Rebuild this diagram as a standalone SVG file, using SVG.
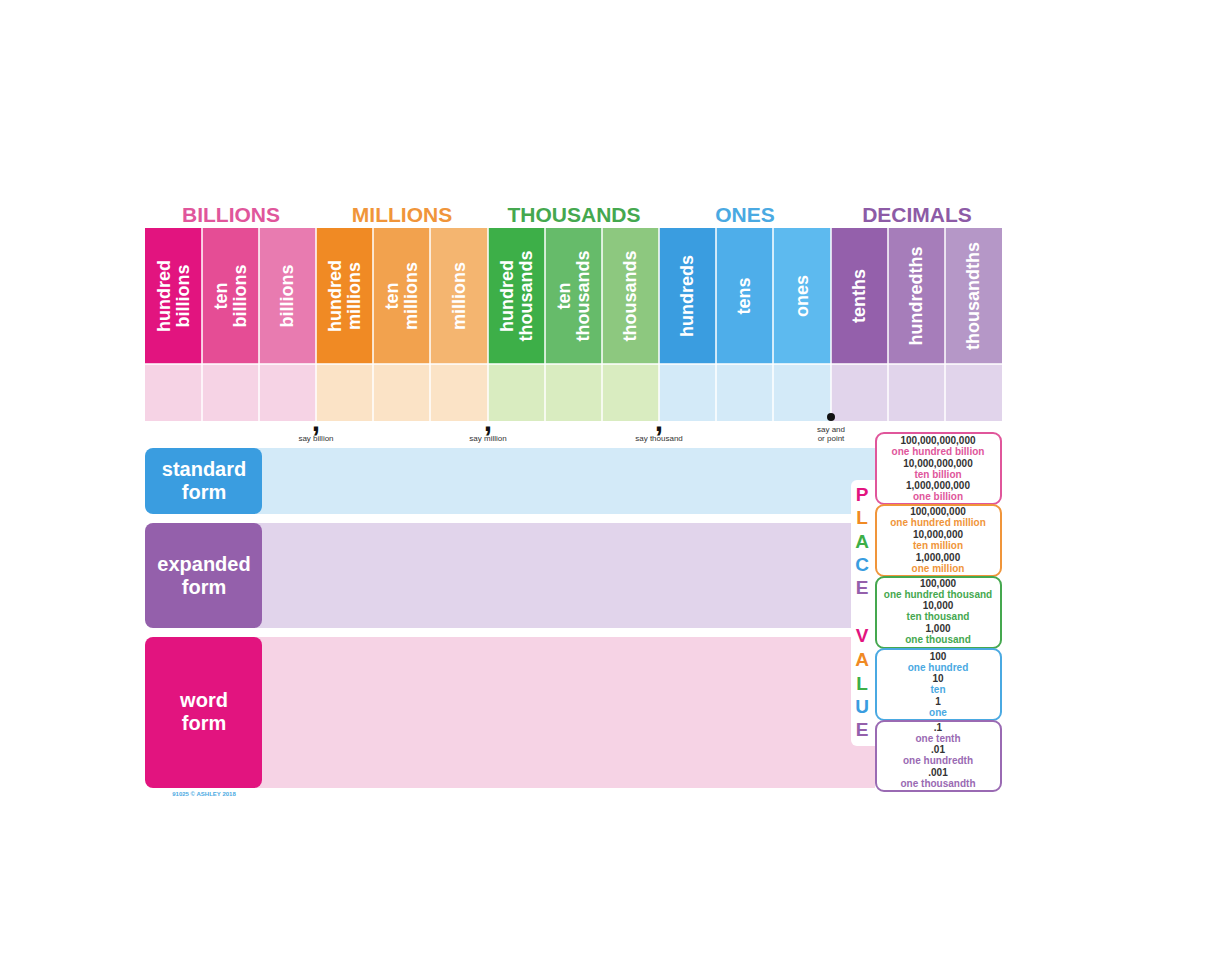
<svg xmlns="http://www.w3.org/2000/svg" width="1207" height="960" viewBox="0 0 1207 960">
<style>
text{font-family:"Liberation Sans",Arial,sans-serif;font-weight:bold}
.gt{font-size:21px;text-anchor:middle}
.vl{font-size:18px;fill:#fff;text-anchor:middle}
.say{font-size:8px;font-weight:normal;fill:#333;text-anchor:middle}
.fl{font-size:20px;fill:#fff;text-anchor:middle}
.pv{font-size:10px;text-anchor:middle}
.n{fill:#333}
.pl{font-size:19px;text-anchor:middle}
.sep{stroke:#fff;stroke-width:1.5}
</style>
<rect width="1207" height="960" fill="#fff"/>
<g id="group-titles">
<text class="gt" x="231" y="222" fill="#e0569b">BILLIONS</text>
<text class="gt" x="402" y="222" fill="#f0953a">MILLIONS</text>
<text class="gt" x="574" y="222" fill="#45a84f">THOUSANDS</text>
<text class="gt" x="745" y="222" fill="#4aa9e2">ONES</text>
<text class="gt" x="917" y="222" fill="#8d5ba6">DECIMALS</text>
</g>
<g id="columns">
<rect x="145" y="228" width="57" height="136" fill="#e2147f"/>
<rect x="202" y="228" width="57" height="136" fill="#e54d95"/>
<rect x="259" y="228" width="57" height="136" fill="#e87bb0"/>
<rect x="316" y="228" width="57" height="136" fill="#f08a24"/>
<rect x="373" y="228" width="57" height="136" fill="#f2a24e"/>
<rect x="430" y="228" width="58" height="136" fill="#f4b570"/>
<rect x="488" y="228" width="57" height="136" fill="#3daf48"/>
<rect x="545" y="228" width="57" height="136" fill="#66bb6a"/>
<rect x="602" y="228" width="57" height="136" fill="#8dc87f"/>
<rect x="659" y="228" width="57" height="136" fill="#3a9de0"/>
<rect x="716" y="228" width="57" height="136" fill="#4eaeea"/>
<rect x="773" y="228" width="58" height="136" fill="#5dbaef"/>
<rect x="831" y="228" width="57" height="136" fill="#9460ab"/>
<rect x="888" y="228" width="57" height="136" fill="#a67dba"/>
<rect x="945" y="228" width="57" height="136" fill="#b597c7"/>
<rect x="145" y="364" width="171" height="57" fill="#f6d3e5"/>
<rect x="316" y="364" width="172" height="57" fill="#fbe3c6"/>
<rect x="488" y="364" width="171" height="57" fill="#d9ecc0"/>
<rect x="659" y="364" width="172" height="57" fill="#d3eaf8"/>
<rect x="831" y="364" width="171" height="57" fill="#e1d4eb"/>
<g class="sep">
<line x1="202" y1="228" x2="202" y2="421"/><line x1="259" y1="228" x2="259" y2="421"/><line x1="316" y1="228" x2="316" y2="421"/>
<line x1="373" y1="228" x2="373" y2="421"/><line x1="430" y1="228" x2="430" y2="421"/><line x1="488" y1="228" x2="488" y2="421"/>
<line x1="545" y1="228" x2="545" y2="421"/><line x1="602" y1="228" x2="602" y2="421"/><line x1="659" y1="228" x2="659" y2="421"/>
<line x1="716" y1="228" x2="716" y2="421"/><line x1="773" y1="228" x2="773" y2="421"/><line x1="831" y1="228" x2="831" y2="421"/>
<line x1="888" y1="228" x2="888" y2="421"/><line x1="945" y1="228" x2="945" y2="421"/>
<line x1="145" y1="364" x2="1002" y2="364"/>
</g>
<g class="vl">
<text transform="translate(173,296) rotate(-90)"><tspan x="0" y="-3">hundred</tspan><tspan x="0" y="16">billions</tspan></text>
<text transform="translate(230,296) rotate(-90)"><tspan x="0" y="-3">ten</tspan><tspan x="0" y="16">billions</tspan></text>
<text transform="translate(287,296) rotate(-90)"><tspan x="0" y="6">billions</tspan></text>
<text transform="translate(344,296) rotate(-90)"><tspan x="0" y="-3">hundred</tspan><tspan x="0" y="16">millions</tspan></text>
<text transform="translate(401,296) rotate(-90)"><tspan x="0" y="-3">ten</tspan><tspan x="0" y="16">millions</tspan></text>
<text transform="translate(459,296) rotate(-90)"><tspan x="0" y="6">millions</tspan></text>
<text transform="translate(516,296) rotate(-90)"><tspan x="0" y="-3">hundred</tspan><tspan x="0" y="16">thousands</tspan></text>
<text transform="translate(573,296) rotate(-90)"><tspan x="0" y="-3">ten</tspan><tspan x="0" y="16">thousands</tspan></text>
<text transform="translate(630,296) rotate(-90)"><tspan x="0" y="6">thousands</tspan></text>
<text transform="translate(687,296) rotate(-90)"><tspan x="0" y="6">hundreds</tspan></text>
<text transform="translate(744,296) rotate(-90)"><tspan x="0" y="6">tens</tspan></text>
<text transform="translate(802,296) rotate(-90)"><tspan x="0" y="6">ones</tspan></text>
<text transform="translate(859,296) rotate(-90)"><tspan x="0" y="6">tenths</tspan></text>
<text transform="translate(916,296) rotate(-90)"><tspan x="0" y="6">hundredths</tspan></text>
<text transform="translate(973,296) rotate(-90)"><tspan x="0" y="6">thousandths</tspan></text>
</g>
</g>
<g id="separators">
<text x="316" y="431" font-size="30" text-anchor="middle" fill="#111">,</text>
<text x="488" y="431" font-size="30" text-anchor="middle" fill="#111">,</text>
<text x="659" y="431" font-size="30" text-anchor="middle" fill="#111">,</text>
<circle cx="831" cy="417" r="4" fill="#111"/>
<text class="say" x="316" y="441">say billion</text>
<text class="say" x="488" y="441">say million</text>
<text class="say" x="659" y="441">say thousand</text>
<text class="say" x="831" y="432">say and</text>
<text class="say" x="831" y="441">or point</text>
</g>
<g id="forms">
<rect x="255" y="448" width="620" height="66" fill="#d3eaf8"/>
<rect x="255" y="523" width="620" height="105" fill="#e1d4eb"/>
<rect x="255" y="637" width="620" height="151" fill="#f6d3e5"/>
<rect x="145" y="448" width="117" height="66" rx="8" fill="#3a9de0"/>
<rect x="145" y="523" width="117" height="105" rx="8" fill="#9460ab"/>
<rect x="145" y="637" width="117" height="151" rx="8" fill="#e2147f"/>
<text class="fl" x="204" y="476">standard</text><text class="fl" x="204" y="499">form</text>
<text class="fl" x="204" y="571">expanded</text><text class="fl" x="204" y="594">form</text>
<text class="fl" x="204" y="707">word</text><text class="fl" x="204" y="730">form</text>
<text x="204" y="796" font-size="6" font-weight="normal" fill="#4aa9e2" text-anchor="middle">91025 © ASHLEY 2018</text>
</g>
<g id="place-value">
<rect x="851" y="480" width="30" height="266" rx="6" fill="#fff"/>
<text class="pl" x="862" y="501" fill="#e2147f">P</text>
<text class="pl" x="862" y="524" fill="#f08a24">L</text>
<text class="pl" x="862" y="548" fill="#3daf48">A</text>
<text class="pl" x="862" y="571" fill="#3a9de0">C</text>
<text class="pl" x="862" y="594" fill="#9460ab">E</text>
<text class="pl" x="862" y="642" fill="#e2147f">V</text>
<text class="pl" x="862" y="666" fill="#f08a24">A</text>
<text class="pl" x="862" y="690" fill="#3daf48">L</text>
<text class="pl" x="862" y="713" fill="#3a9de0">U</text>
<text class="pl" x="862" y="736" fill="#9460ab">E</text>
<rect x="876" y="433" width="125" height="71" rx="8" fill="#fff" stroke="#e0569b" stroke-width="2"/>
<rect x="876" y="505" width="125" height="71" rx="8" fill="#fff" stroke="#f0953a" stroke-width="2"/>
<rect x="876" y="577" width="125" height="71" rx="8" fill="#fff" stroke="#45a84f" stroke-width="2"/>
<rect x="876" y="649" width="125" height="71" rx="8" fill="#fff" stroke="#4aa9e2" stroke-width="2"/>
<rect x="876" y="721" width="125" height="70" rx="8" fill="#fff" stroke="#9a6ab3" stroke-width="2"/>
<g class="pv">
<text class="n" x="938" y="444">100,000,000,000</text>
<text x="938" y="455" fill="#e0569b">one hundred billion</text>
<text class="n" x="938" y="467">10,000,000,000</text>
<text x="938" y="478" fill="#e0569b">ten billion</text>
<text class="n" x="938" y="489">1,000,000,000</text>
<text x="938" y="500" fill="#e0569b">one billion</text>
<text class="n" x="938" y="515">100,000,000</text>
<text x="938" y="526" fill="#f0953a">one hundred million</text>
<text class="n" x="938" y="538">10,000,000</text>
<text x="938" y="549" fill="#f0953a">ten million</text>
<text class="n" x="938" y="561">1,000,000</text>
<text x="938" y="572" fill="#f0953a">one million</text>
<text class="n" x="938" y="587">100,000</text>
<text x="938" y="598" fill="#45a84f">one hundred thousand</text>
<text class="n" x="938" y="609">10,000</text>
<text x="938" y="620" fill="#45a84f">ten thousand</text>
<text class="n" x="938" y="632">1,000</text>
<text x="938" y="643" fill="#45a84f">one thousand</text>
<text class="n" x="938" y="660">100</text>
<text x="938" y="671" fill="#4aa9e2">one hundred</text>
<text class="n" x="938" y="682">10</text>
<text x="938" y="693" fill="#4aa9e2">ten</text>
<text class="n" x="938" y="705">1</text>
<text x="938" y="716" fill="#4aa9e2">one</text>
<text class="n" x="938" y="731">.1</text>
<text x="938" y="742" fill="#9a6ab3">one tenth</text>
<text class="n" x="938" y="753">.01</text>
<text x="938" y="764" fill="#9a6ab3">one hundredth</text>
<text class="n" x="938" y="776">.001</text>
<text x="938" y="787" fill="#9a6ab3">one thousandth</text>
</g>
</g>
</svg>
